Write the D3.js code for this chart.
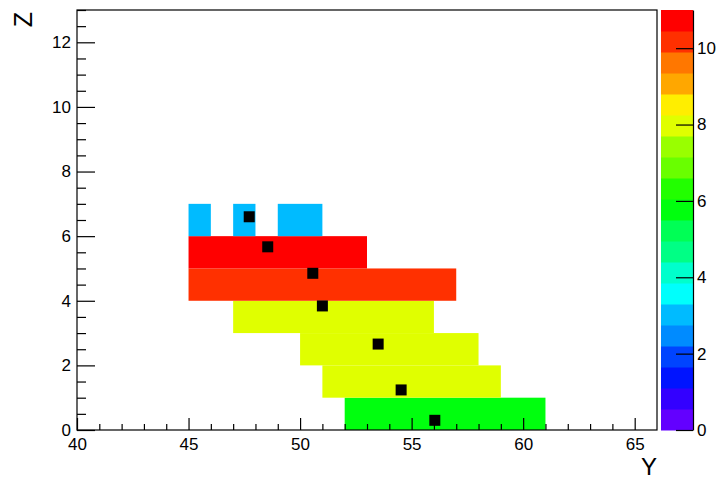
<!DOCTYPE html>
<html>
<head>
<meta charset="utf-8">
<script src="https://cdn.jsdelivr.net/npm/d3@7"></script>
<style>
  body { margin: 0; background: #fff; }
  svg text { font-family: "Liberation Sans", Arial, Helvetica, sans-serif; }
</style>
</head>
<body>
<svg id="chart" width="720" height="481"></svg>
<script>
// 2D histogram bins: one run of equal-content bins per entry
const binZ   = [0, 1, 2, 3, 4, 5, 6, 6, 6];
const binX0  = [52, 51, 50, 47, 45, 45, 45, 47, 49];
const binX1  = [61, 59, 58, 56, 57, 53, 46, 48, 51];
const binVal = [6, 8, 8, 8, 10, 11, 3, 3, 3];

// overlaid graph points
const ptY = [47.72, 48.55, 50.57, 51.0, 53.5, 54.53, 56.04];
const ptZ = [6.6, 5.67, 4.85, 3.84, 2.66, 1.24, 0.30];

// ROOT "pretty" palette, 20 contour levels
const paletteColors = [
  "#6300ff", "#3300ff", "#0014ff", "#0044ff", "#008bff",
  "#00bbff", "#00fffc", "#00ffcc", "#00ff85", "#00ff55",
  "#00ff0e", "#22ff00", "#69ff00", "#99ff00", "#e0ff00",
  "#ffee00", "#ffa700", "#ff7700", "#ff3000", "#ff0000"
];
const zMax = 11;

const xTicks = [40, 45, 50, 55, 60, 65];
const yTicks = [0, 2, 4, 6, 8, 10, 12];
const palTicks = [0, 2, 4, 6, 8, 10];

const svg = d3.select("#chart");
const fLeft = 77, fRight = 657, fTop = 10, fBottom = 430;

const x = d3.scaleLinear().domain([40, 66]).range([fLeft, fRight]);
const y = d3.scaleLinear().domain([0, 13]).range([fBottom, fTop]);
const color = d3.scaleQuantize().domain([0, zMax]).range(paletteColors);

// cells
svg.append("g")
  .selectAll("rect")
  .data(binZ.map((z, i) => ({ z, x0: binX0[i], x1: binX1[i], v: binVal[i] })))
  .join("rect")
  .attr("x", d => x(d.x0))
  .attr("y", d => y(d.z + 1))
  .attr("width", d => x(d.x1) - x(d.x0))
  .attr("height", d => y(d.z) - y(d.z + 1))
  .attr("fill", d => color(Math.min(d.v, zMax - 1e-6)));

// markers
svg.append("g")
  .selectAll("rect")
  .data(ptY.map((v, i) => [v, ptZ[i]]))
  .join("rect")
  .attr("x", d => x(d[0]) - 5.5)
  .attr("y", d => y(d[1]) - 5.5)
  .attr("width", 11)
  .attr("height", 11)
  .attr("fill", "#000");

// frame
svg.append("rect")
  .attr("x", fLeft).attr("y", fTop)
  .attr("width", fRight - fLeft).attr("height", fBottom - fTop)
  .attr("fill", "none").attr("stroke", "#000").attr("stroke-width", 1.2);

function styleAxis(g, size) {
  g.select(".domain").remove();
  g.selectAll("line").attr("stroke", "#000").attr("stroke-width", 1.2);
  g.selectAll("text").attr("font-size", size).attr("fill", "#000")
    .attr("font-family", "Liberation Sans, Arial, sans-serif");
}

// x axis
const xMinor = d3.range(41, 66).filter(v => v % 5 !== 0);
svg.append("g").attr("transform", `translate(0,${fBottom})`)
  .call(d3.axisBottom(x).tickValues(xMinor).tickSize(-6).tickFormat(""))
  .call(g => styleAxis(g, 17));
svg.append("g").attr("transform", `translate(0,${fBottom})`)
  .call(d3.axisBottom(x).tickValues(xTicks).tickSize(-12).tickPadding(8).tickFormat(d3.format("d")))
  .call(g => styleAxis(g, 17));

// y axis
const yMinor = d3.range(0.5, 13.01, 0.5).filter(v => v % 2 !== 0);
svg.append("g").attr("transform", `translate(${fLeft},0)`)
  .call(d3.axisLeft(y).tickValues(yMinor).tickSize(-9).tickFormat(""))
  .call(g => styleAxis(g, 17));
svg.append("g").attr("transform", `translate(${fLeft},0)`)
  .call(d3.axisLeft(y).tickValues(yTicks).tickSize(-18).tickPadding(6).tickFormat(d3.format("d")))
  .call(g => styleAxis(g, 17));

// palette
const palLeft = 661, palRight = 693;
const zScale = d3.scaleLinear().domain([0, zMax]).range([fBottom, fTop]);
const step = zMax / paletteColors.length;
svg.append("g")
  .selectAll("rect")
  .data(paletteColors)
  .join("rect")
  .attr("x", palLeft)
  .attr("width", palRight - palLeft)
  .attr("y", (c, i) => zScale((i + 1) * step))
  .attr("height", (c, i) => zScale(i * step) - zScale((i + 1) * step) + 0.5)
  .attr("fill", c => c);
svg.append("g").attr("transform", `translate(${palRight},0)`)
  .call(d3.axisRight(zScale).tickValues(palTicks).tickSize(-17).tickPadding(4).tickSizeOuter(0).tickFormat(d3.format("d")))
  .call(g => {
    g.selectAll("line").attr("stroke", "#000").attr("stroke-width", 1.2);
    g.select(".domain").attr("stroke", "#000").attr("stroke-width", 1.2);
    g.selectAll("text").attr("font-size", 17).attr("fill", "#000")
      .attr("font-family", "Liberation Sans, Arial, sans-serif");
  });

// axis titles
svg.append("text")
  .attr("x", fRight).attr("y", 475)
  .attr("text-anchor", "end")
  .attr("font-size", 24)
  .text("Y");
svg.append("text")
  .attr("transform", `translate(32,12) rotate(-90)`)
  .attr("text-anchor", "end")
  .attr("font-size", 25)
  .text("Z");
</script>
</body>
</html>
